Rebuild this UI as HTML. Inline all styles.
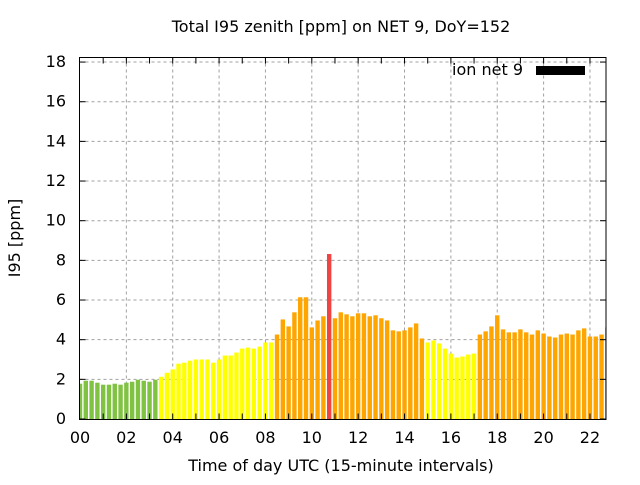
<!DOCTYPE html>
<html><head><meta charset="utf-8"><style>
body{margin:0;background:#fff;}
svg text{font-family:"DejaVu Sans","Liberation Sans",sans-serif;fill:#000;}
</style></head><body>
<svg id="chart" width="640" height="480" xmlns="http://www.w3.org/2000/svg">
<text x="341" y="32" font-size="16" text-anchor="middle">Total I95 zenith [ppm] on NET 9, DoY=152</text>
<text transform="translate(20,238) rotate(-90)" font-size="16" text-anchor="middle">I95 [ppm]</text>
<text x="341" y="471" font-size="16" text-anchor="middle">Time of day UTC (15-minute intervals)</text>
<g id="grid"></g>
<g id="bars"></g>
<g id="axes"></g>
<g>
<text x="523" y="75" font-size="16" text-anchor="end">ion net 9</text>
<rect x="536" y="66" width="49" height="9" fill="#000"/>
</g>
</svg>
<script>
const values = [1.78,1.93,1.93,1.83,1.73,1.73,1.78,1.73,1.83,1.88,1.98,1.93,1.88,1.98,
2.13,2.33,2.5,2.79,2.84,2.94,3.0,3.0,3.0,2.84,3.0,3.2,3.2,3.35,3.55,3.6,3.55,3.65,3.86,3.86,
4.26,5.02,4.67,5.38,6.14,6.14,4.62,4.97,5.18,8.32,5.08,5.38,5.28,5.18,5.33,5.33,5.18,5.23,5.08,4.97,4.47,4.42,4.47,4.62,4.82,4.06,
3.86,3.96,3.81,3.55,3.3,3.1,3.15,3.25,3.3,
4.26,4.42,4.67,5.23,4.52,4.37,4.37,4.52,4.37,4.26,4.47,4.31,4.16,4.11,4.26,4.31,4.26,4.47,4.57,4.16,4.16,4.26,4.62];
const yTicks = [0,2,4,6,8,10,12,14,16,18];
const xTickLabels = ["00","02","04","06","08","10","12","14","16","18","20","22"];
const thresholds = [2,4,8];
const colors = ["#80c342","#ffff00","#ffa500","#f04343"];

const L=79.5,R=606,T=57.5,B=419.5;
const ns="http://www.w3.org/2000/svg";
const X=h=>80+h*23.18;
const Y=v=>419-v*19.83;
function mk(tag,attrs,parent){const e=document.createElementNS(ns,tag);for(const k in attrs)e.setAttribute(k,attrs[k]);parent.appendChild(e);return e;}
const grid=document.getElementById('grid'),bars=document.getElementById('bars'),axes=document.getElementById('axes');
yTicks.forEach(v=>{
  const y=Y(v);
  if(v>0&&v<18.5){const g=mk('line',{x1:L,x2:R,y1:y,y2:y,stroke:'#a0a0a0','stroke-dasharray':'3,3'},grid);
  
  }
  const t=mk('text',{x:66,y:y+5,'font-size':16,'text-anchor':'end'},axes);t.textContent=v;
  
  
  mk('line',{x1:L,x2:L+6,y1:y,y2:y,stroke:'#000'},axes);
  mk('line',{x1:R,x2:R-6,y1:y,y2:y,stroke:'#000'},axes);
});
xTickLabels.forEach((lab,i)=>{
  const x=X(i*2);
  if(i>0){const g=mk('line',{x1:x,x2:x,y1:T,y2:B,stroke:'#a0a0a0','stroke-dasharray':'3,3'},grid);
  
  }
  const t=mk('text',{x:x,y:443,'font-size':16,'text-anchor':'middle'},axes);t.textContent=lab;
  
  
});
for(let h=1;h<23;h++){const x=X(h);mk('line',{x1:x,x2:x,y1:B,y2:B-6,stroke:'#000'},axes);mk('line',{x1:x,x2:x,y1:T,y2:T+6,stroke:'#000'},axes);}
values.forEach((v,i)=>{
  const c=X(i*0.25);let x0=Math.max(c-2.2,80),x1=Math.min(c+2.2,R);
  let ci=0;while(ci<thresholds.length&&v>=thresholds[ci])ci++;
  const r=mk('rect',{x:x0,y:Y(v),width:x1-x0,height:419-Y(v),fill:colors[ci]},bars);
  
  
});
const f=mk('rect',{x:L,y:T,width:R-L,height:B-T,fill:'none',stroke:'#000','stroke-width':1},axes);


</script>
</body></html>
